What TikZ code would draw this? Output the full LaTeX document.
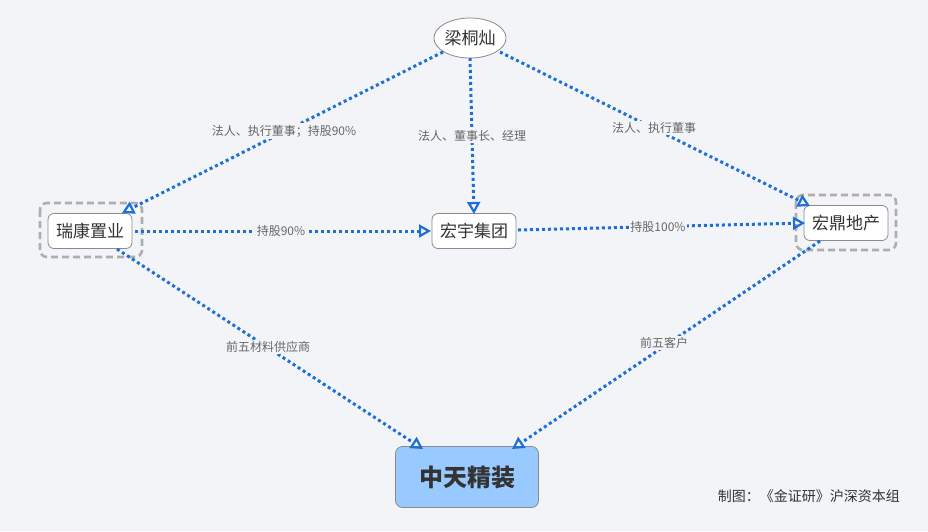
\documentclass[tikz,border=0pt]{standalone}
\usepackage{fontspec}
\setmainfont{Noto Sans CJK SC}
\newfontfamily\cjk{Noto Sans CJK SC}
\usetikzlibrary{arrows.meta,shapes.geometric}
\definecolor{bgc}{HTML}{F2F4F8}
\definecolor{linkc}{HTML}{1D6FD6}
\definecolor{boxline}{HTML}{8A8A8A}
\definecolor{dashc}{HTML}{AEAEAE}
\definecolor{mainfill}{HTML}{99CAFF}
\definecolor{txtc}{HTML}{333333}
\definecolor{lblc}{HTML}{666666}
\begin{document}
\begin{tikzpicture}[x=1pt,y=-1pt,
  entity/.style={draw=boxline,line width=0.8pt,fill=white,rounded corners=6pt,
    minimum width=84pt,minimum height=35pt,inner sep=2pt,font=\cjk\fontsize{17}{19}\selectfont,text=txtc},
  person/.style={ellipse,draw=boxline,line width=0.8pt,fill=white,
    minimum width=68pt,minimum height=40pt,inner sep=0pt,font=\cjk\fontsize{17}{19}\selectfont,text=txtc},
  mainbox/.style={draw=boxline,line width=0.8pt,fill=mainfill,rounded corners=7pt,
    minimum width=143pt,minimum height=61pt,font=\cjk\bfseries\fontsize{24}{27}\selectfont,text=txtc},
  outline/.style={draw=dashc,line width=2.6pt,dash pattern=on 7pt off 4pt,rounded corners=7pt},
  link/.style={draw=linkc,line width=3pt,dash pattern=on 3pt off 3pt,
    -{Triangle[open,length=12pt,width=13pt,line width=2.2pt,sep=0pt]}},
  lbl/.style={fill=bgc,inner sep=1.5pt,font=\cjk\fontsize{12}{14}\selectfont,text=lblc}
]
\useasboundingbox[fill=bgc] (0,0) rectangle (928,531);

\node[person] (ltc) at (470,38) {梁桐灿};
\node[entity] (rk) at (90,231) {瑞康置业};
\node[entity] (hy) at (474,231) {宏宇集团};
\node[entity] (hd) at (846,223) {宏鼎地产};
\node[mainbox] (zt) at (467,477) {中天精装};

\draw[outline] (40,203) rectangle (142,257);
\draw[outline] (796,195) rectangle (896,250);

\coordinate (a1) at (443,52);  \coordinate (b1) at (122,213);
\coordinate (a2) at (470,58);  \coordinate (b2) at (474,214);
\coordinate (a3) at (500,52);  \coordinate (b3) at (810,206);
\coordinate (a4) at (135,231); \coordinate (b4) at (431,231);
\coordinate (a5) at (518,230); \coordinate (b5) at (805,223);
\coordinate (a6) at (117,249); \coordinate (b6) at (423,449);
\coordinate (a7) at (820,241); \coordinate (b7) at (512,449);

\draw[link] (a1) -- (b1);
\draw[link] (a2) -- (b2);
\draw[link] (a3) -- (b3);
\draw[link] (a4) -- (b4);
\draw[link] (a5) -- (b5);
\draw[link] (a6) -- (b6);
\draw[link] (a7) -- (b7);

\node[lbl] (l1) at (284,131) {法人、执行董事；持股90\%};
\node[lbl] (l2) at (472,136) {法人、董事长、经理};
\node[lbl] (l3) at (654,128) {法人、执行董事};
\node[lbl] (l4) at (281,231) {持股90\%};
\node[lbl] (l5) at (658,227) {持股100\%};
\node[lbl] (l6) at (268,347) {前五材料供应商};
\node[lbl] (l7) at (664,343) {前五客户};

\node[font=\cjk\fontsize{14}{16}\selectfont,text=txtc,anchor=east,inner sep=0pt] (credit) at (900,496) {制图：《金证研》沪深资本组};
\end{tikzpicture}
\end{document}
